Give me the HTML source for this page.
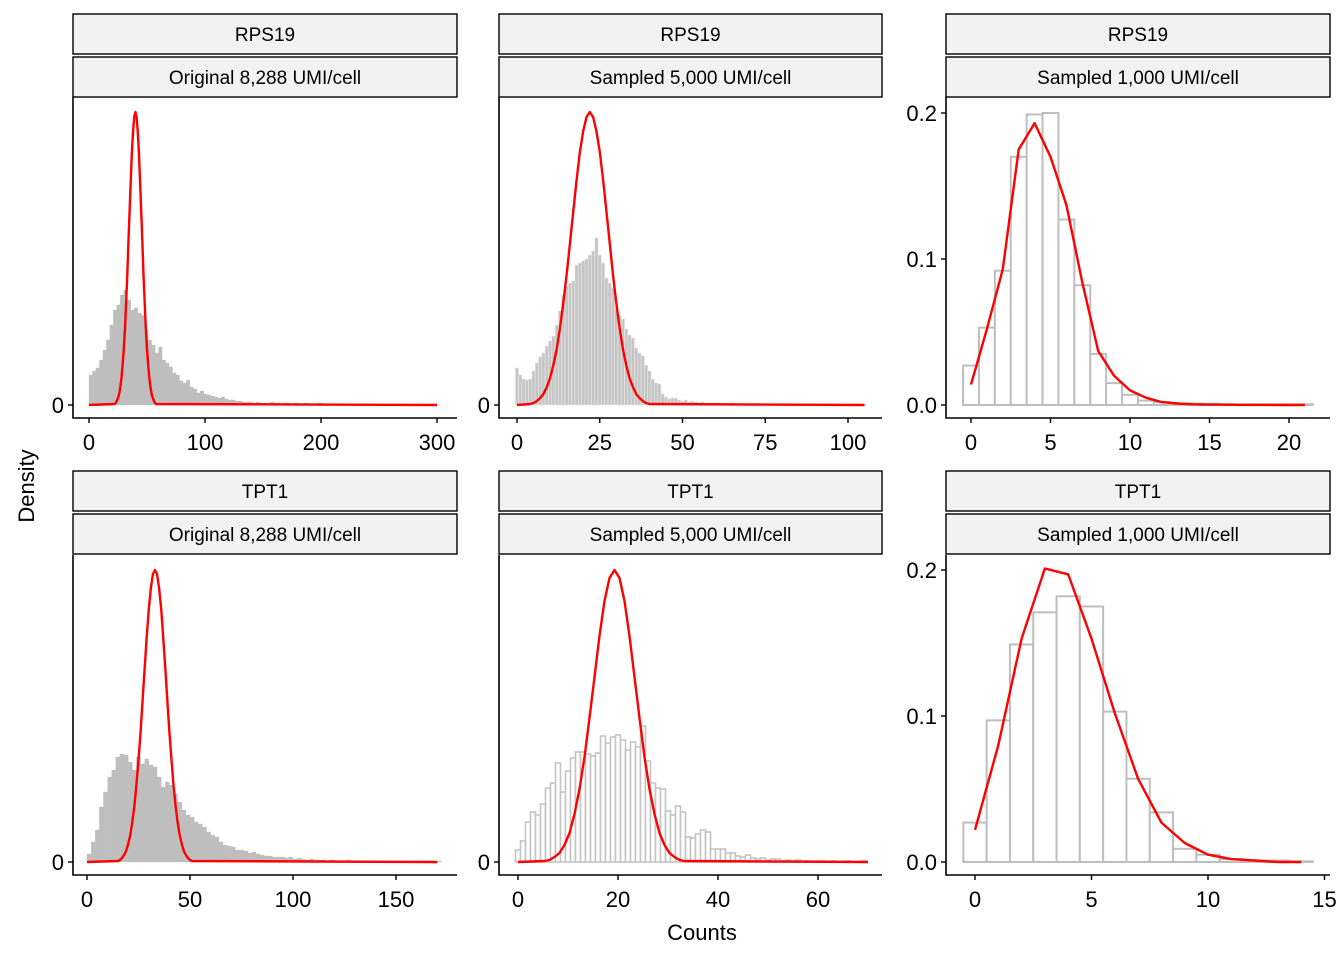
<!DOCTYPE html>
<html><head><meta charset="utf-8">
<style>
html,body{margin:0;padding:0;background:#fff;}
svg{display:block;font-family:"Liberation Sans",Arial,sans-serif;}
</style></head>
<body>
<svg id="chart" width="1344" height="960" viewBox="0 0 1344 960">
<text x="34" y="486" font-size="22" text-anchor="middle" transform="rotate(-90 34 486)">Density</text>
<text x="702" y="940" font-size="22" text-anchor="middle">Counts</text>
</svg>
<script>
// ---- data ----
const p1Bins = [30,34,37,45,55,65,80,95,100,110,115,105,95,97,92,90,75,65,60,52,58,45,42,38,32,30,24,22,25,18,16,12,14,11,10,9,8,7,8,6,5,5,4,4,3,3,3,2,3,2,2,2,3,2,2,1,2,2,1,2,1,1,2,1,1,1,2,1,1,1,0,1,1,1,0,1,1,0,1,1,0,0,1,0,1,0,0,1,0,0,1,0,0,0,1,0,0,0,0,1];
const p1CurveX = [0,22,23,24,25,26,27,28,29,30,31,32,33,34,35,36,37,38,39,40,41,42,43,44,45,46,47,48,49,50,51,52,53,54,55,56,57,58,300];
const p1CurveY = [0,1,2,4,7,11,18,27,40,56,77,102,130,162,194,225,253,274,288,293,288,274,253,225,194,162,130,102,77,56,40,27,18,11,7,4,2,1,0];

const p2Bins = [37,30,26,25,26,34,42,48,52,59,64,69,80,94,110,119,122,124,140,142,144,146,150,154,167,150,142,127,122,117,97,90,86,76,70,67,57,52,49,40,34,26,22,21,11,8,6,7,7,5,4,5,3,4,3,2,3,2,2,2,1,2,1,1,1,2,1,1,1,1,0,1,1,0,1,0,0,1,0,0,1,0,0,0,1,0,0,0,0,1,0,0,0,0,0,1,0,0,0,0,0,0,0,1,0,1];
const p2CurveX = [0,4,5,6,7,8,9,10,11,12,13,14,15,16,17,18,19,20,21,22,23,24,25,26,27,28,29,30,31,32,33,34,35,36,37,38,39,40,105];
const p2CurveY = [0,1,2,4,7,11,18,27,40,56,77,102,130,162,194,225,253,274,288,293,288,274,253,225,194,162,130,102,77,56,40,27,18,11,7,4,2,1,0];

const p3Bins = [0.027,0.053,0.092,0.17,0.199,0.2,0.127,0.082,0.035,0.015,0.007,0.003,0.002,0.001,0.001,0.0008,0.0006,0.0005,0.0005,0.0005,0.0005,0.0005];
const p3CurveY = [0.014,0.052,0.093,0.175,0.193,0.17,0.137,0.084,0.037,0.02,0.01,0.005,0.002,0.001,0.0005,0.0003,0.0002,0.0001,0.0001,0,0,0];

const p4Bins = [8,20,32,55,70,85,92,105,108,107,100,92,105,98,103,97,95,85,75,80,77,68,60,52,47,45,40,38,35,30,27,25,20,17,16,15,12,12,11,9,10,8,7,6,6,5,5,5,4,5,3,4,3,2,3,2,2,2,1,2,1,1,1,2,1,1,1,1,0,1,1,0,1,1,0,1,0,1,1,0,1,0,1,1,0,1];
const p4CurveX = [0,15,16,17,18,19,20,21,22,23,24,25,26,27,28,29,30,31,32,33,34,35,36,37,38,39,40,41,42,43,44,45,46,47,48,49,50,51,170];
const p4CurveY = [0,1,2,4,7,11,18,27,40,56,77,102,130,162,194,225,253,274,288,292,288,274,253,225,194,162,130,102,77,56,40,27,18,11,7,4,2,1,0];

const p5Bins = [12,21,40,50,47,58,74,79,99,70,91,104,110,110,108,106,109,126,119,125,127,122,112,120,115,136,101,79,74,73,51,47,56,50,25,24,28,32,30,13,13,13,9,9,6,5,7,4,3,4,2,3,3,1,2,1,2,1,1,0,1,1,0,1,0,0,1,0,0,1];
const p5CurveX = [0,5.3,6.3,7.3,8.3,9.3,10.3,11.3,12.3,13.3,14.3,15.3,16.3,17.3,18.3,19.3,20.3,21.3,22.3,23.3,24.3,25.3,26.3,27.3,28.3,29.3,30.3,31.3,32.3,33.3,70];
const p5CurveY = [0,1,2,5,9,17,29,48,73,105,144,185,226,261,284,292,284,261,226,185,144,105,73,48,29,17,9,5,2,1,0];

const p6Bins = [0.027,0.097,0.149,0.171,0.182,0.175,0.103,0.057,0.034,0.009,0.005,0.002,0.001,0.001,0.0005];
const p6CurveY = [0.022,0.08,0.153,0.201,0.197,0.153,0.102,0.057,0.027,0.013,0.005,0.002,0.001,0,0];

const p1Ticks = [0,100,200,300], p2Ticks=[0,25,50,75,100], p3Ticks=[0,5,10,15,20];
const p4Ticks = [0,50,100,150], p5Ticks=[0,20,40,60], p6Ticks=[0,5,10,15];
const densTicks = [0,0.1,0.2], densLabels=["0.0","0.1","0.2"];

const NS="http://www.w3.org/2000/svg";
const svg=document.getElementById('chart');
function mk(tag,attrs,parent){const e=document.createElementNS(NS,tag);for(const k in attrs)e.setAttribute(k,attrs[k]);(parent||svg).appendChild(e);return e;}

function panel(cfg){
  const g=mk('g',{});
  
  
  const sx=v=>cfg.x0+v*cfg.kx, sy=v=>cfg.zeroY-v*cfg.ky;
  [[cfg.stripY,cfg.title],[cfg.stripY+43,cfg.sub]].forEach((s,i)=>{
    const r=mk('rect',{x:cfg.left,y:s[0],width:cfg.right-cfg.left,height:40,fill:'#f2f2f2',stroke:'#000','stroke-width':1.4},g);
    
    
    const t=mk('text',{x:(cfg.left+cfg.right)/2,y:s[0]+27,'font-size':19,'text-anchor':'middle'},g);
    t.textContent=s[1];
    
    
  });
  cfg.bins.forEach((v,i)=>{
    const a=cfg.binStart+i*cfg.bw, b=a+cfg.bw;
    const h=v*cfg.ky;
    const r=mk('rect',{x:sx(a),y:cfg.zeroY-h,width:sx(b)-sx(a),height:Math.max(h,0.01),fill:cfg.fill,stroke:cfg.stroke,'stroke-width':cfg.sw},g);
    
    
  });
  const pts=cfg.cx.map((x,i)=>sx(x).toFixed(1)+','+sy(cfg.cy[i]).toFixed(1)).join(' ');
  const pl=mk('polyline',{points:pts,fill:'none',stroke:'#ff0000','stroke-width':2.4,'stroke-linejoin':'round'},g);
  
  
  const ax=mk('path',{d:`M${cfg.left},${cfg.top} V${cfg.axisY} H${cfg.right}`,fill:'none',stroke:'#000','stroke-width':1.6},g);
  
  
  cfg.xt.forEach(v=>{
    mk('line',{x1:sx(v),x2:sx(v),y1:cfg.axisY,y2:cfg.axisY+5,stroke:'#000','stroke-width':1.4},g);
    const t=mk('text',{x:sx(v),y:cfg.axisY+32,'font-size':22,'text-anchor':'middle'},g);
    t.textContent=v;
    
    
  });
  cfg.yt.forEach((v,i)=>{
    mk('line',{x1:cfg.left-5,x2:cfg.left,y1:sy(v),y2:sy(v),stroke:'#000','stroke-width':1.4},g);
    const t=mk('text',{x:cfg.left-9,y:sy(v)+8,'font-size':22,'text-anchor':'end'},g);
    t.textContent=cfg.yl[i];
    
    
  });
}
const ints=n=>Array.from({length:n},(_,i)=>i);
const solid={fill:'#bebebe',stroke:'#bebebe',sw:0.3};
panel(Object.assign({name:'panel-rps19-original',title:'RPS19',sub:'Original  8,288 UMI/cell',left:73,right:457,top:97,axisY:418,zeroY:405,stripY:14,x0:89,kx:1.16,ky:1,bins:p1Bins,bw:3,binStart:0,cx:p1CurveX,cy:p1CurveY,xt:p1Ticks,yt:[0],yl:['0']},solid));
panel({name:'panel-rps19-5000',title:'RPS19',sub:'Sampled 5,000 UMI/cell',left:499,right:882,top:97,axisY:418,zeroY:405,stripY:14,x0:517,kx:3.31,ky:1,bins:p2Bins,bw:1,binStart:-0.5,fill:'#c6c6c6',stroke:'#e8e8e8',sw:0.6,cx:p2CurveX,cy:p2CurveY,xt:p2Ticks,yt:[0],yl:['0']});
panel({name:'panel-rps19-1000',title:'RPS19',sub:'Sampled 1,000 UMI/cell',left:946,right:1330,top:97,axisY:418,zeroY:405,stripY:14,x0:971,kx:15.9,ky:1460,bins:p3Bins,bw:1,binStart:-0.5,fill:'#fff',stroke:'#bebebe',sw:2,cx:ints(p3CurveY.length),cy:p3CurveY,xt:p3Ticks,yt:densTicks,yl:densLabels});
panel(Object.assign({name:'panel-tpt1-original',title:'TPT1',sub:'Original  8,288 UMI/cell',left:73,right:457,top:555,axisY:875,zeroY:862,stripY:471,x0:87,kx:2.06,ky:1,bins:p4Bins,bw:2,binStart:0,cx:p4CurveX,cy:p4CurveY,xt:p4Ticks,yt:[0],yl:['0']},solid));
panel({name:'panel-tpt1-5000',title:'TPT1',sub:'Sampled 5,000 UMI/cell',left:499,right:882,top:555,axisY:875,zeroY:862,stripY:471,x0:518,kx:5,ky:1,bins:p5Bins,bw:1,binStart:-0.5,fill:'#fff',stroke:'#c4c4c4',sw:1.6,cx:p5CurveX,cy:p5CurveY,xt:p5Ticks,yt:[0],yl:['0']});
panel({name:'panel-tpt1-1000',title:'TPT1',sub:'Sampled 1,000 UMI/cell',left:946,right:1330,top:555,axisY:875,zeroY:862,stripY:471,x0:975,kx:23.3,ky:1460,bins:p6Bins,bw:1,binStart:-0.5,fill:'#fff',stroke:'#bebebe',sw:2,cx:ints(p6CurveY.length),cy:p6CurveY,xt:p6Ticks,yt:densTicks,yl:densLabels});
</script>
</body></html>
